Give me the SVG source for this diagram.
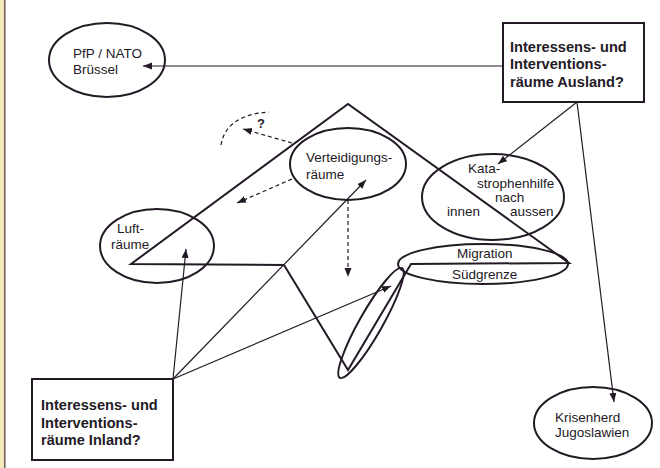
<svg xmlns="http://www.w3.org/2000/svg" width="660" height="468" viewBox="0 0 660 468">
<defs>
<marker id="ah" markerUnits="userSpaceOnUse" markerWidth="10" markerHeight="8" refX="9" refY="3.5" orient="auto">
<path d="M0,0 L9,3.5 L0,7 z" fill="#231a26"/>
</marker>
<style>
.t{font-family:"Liberation Sans",Arial,sans-serif;font-size:13.5px;fill:#231a26}
.b{font-family:"Liberation Sans",Arial,sans-serif;font-size:14.6px;font-weight:bold;fill:#231a26}
.n{fill:none;stroke:#231a26;stroke-width:2}
.c{fill:none;stroke:#231a26;stroke-width:1.2}
.d{fill:none;stroke:#231a26;stroke-width:1.2;stroke-dasharray:4 3}
.f{fill:none;stroke:#231a26;stroke-width:2;stroke-linejoin:miter}
</style>
</defs>
<rect x="0" y="0" width="660" height="468" fill="#ffffff"/>
<rect x="0" y="0" width="4" height="468" fill="#f3e9b8"/>
<line x1="4.8" y1="0" x2="4.8" y2="468" stroke="#6a5a50" stroke-width="1.5"/>

<g id="frame">
<path class="f" d="M131,264 L348,104 L569,263 L411,264 L348,370 L284,265 Z"/>
</g>

<g id="connectors">
<line class="c" x1="503" y1="66" x2="143" y2="66" marker-end="url(#ah)"/>
<line class="c" x1="577" y1="102" x2="498" y2="164" marker-end="url(#ah)"/>
<line class="c" x1="577" y1="102" x2="614" y2="402" marker-end="url(#ah)"/>
<line class="c" x1="173" y1="379" x2="186" y2="249" marker-end="url(#ah)"/>
<line class="c" x1="173" y1="379" x2="366" y2="180" marker-end="url(#ah)"/>
<line class="c" x1="173" y1="379" x2="391" y2="286" marker-end="url(#ah)"/>
<line class="d" x1="292" y1="143" x2="243" y2="129" marker-end="url(#ah)"/>
<line class="d" x1="292" y1="179" x2="237" y2="203" marker-end="url(#ah)"/>
<line class="d" x1="348" y1="200" x2="348" y2="277" marker-end="url(#ah)"/>
<path class="d" d="M221,145 Q226,115 269,112"/>
<text class="b" x="257" y="128" style="font-size:13px">?</text>
</g>

<g id="pfp-nato">
<ellipse class="n" cx="107" cy="60" rx="58" ry="37"/>
<text class="t" x="73" y="58">PfP / NATO</text>
<text class="t" x="73" y="74">Brüssel</text>
</g>

<g id="ausland">
<rect class="n" x="503" y="23" width="141" height="79" fill="#ffffff"/>
<text class="b" x="510" y="52">Interessens- und</text>
<text class="b" x="510" y="69">Interventions-</text>
<text class="b" x="510" y="87">räume Ausland?</text>
</g>

<g id="inland">
<rect class="n" x="32" y="379" width="141" height="81" fill="#ffffff"/>
<text class="b" x="41" y="410">Interessens- und</text>
<text class="b" x="41" y="428">Interventions-</text>
<text class="b" x="41" y="445">räume Inland?</text>
</g>

<g id="luftraeume">
<ellipse class="n" cx="157" cy="246" rx="57" ry="37"/>
<text class="t" x="117" y="233">Luft-</text>
<text class="t" x="111" y="249">räume</text>
</g>

<g id="verteidigungsraeume">
<ellipse class="n" cx="348" cy="164" rx="58" ry="36"/>
<text class="t" x="306" y="162">Verteidigungs-</text>
<text class="t" x="306" y="179">räume</text>
</g>

<g id="katastrophenhilfe">
<ellipse class="n" cx="493" cy="197" rx="71" ry="43"/>
<text class="t" x="468" y="173">Kata-</text>
<text class="t" x="477" y="188">strophenhilfe</text>
<text class="t" x="495" y="202">nach</text>
<text class="t" x="447" y="216">innen</text>
<text class="t" x="510" y="216">aussen</text>
</g>

<g id="migration">
<ellipse class="n" cx="483" cy="264" rx="85" ry="20"/>
<text class="t" x="457" y="258">Migration</text>
<text class="t" x="452" y="279">Südgrenze</text>
</g>

<g id="narrow-ellipse">
<ellipse class="n" cx="371" cy="323" rx="63" ry="11.5" transform="rotate(-60.4 371 323)"/>
</g>

<g id="jugoslawien">
<ellipse class="n" cx="593" cy="423" rx="59" ry="36"/>
<text class="t" x="555" y="422">Krisenherd</text>
<text class="t" x="555" y="437">Jugoslawien</text>
</g>
</svg>
